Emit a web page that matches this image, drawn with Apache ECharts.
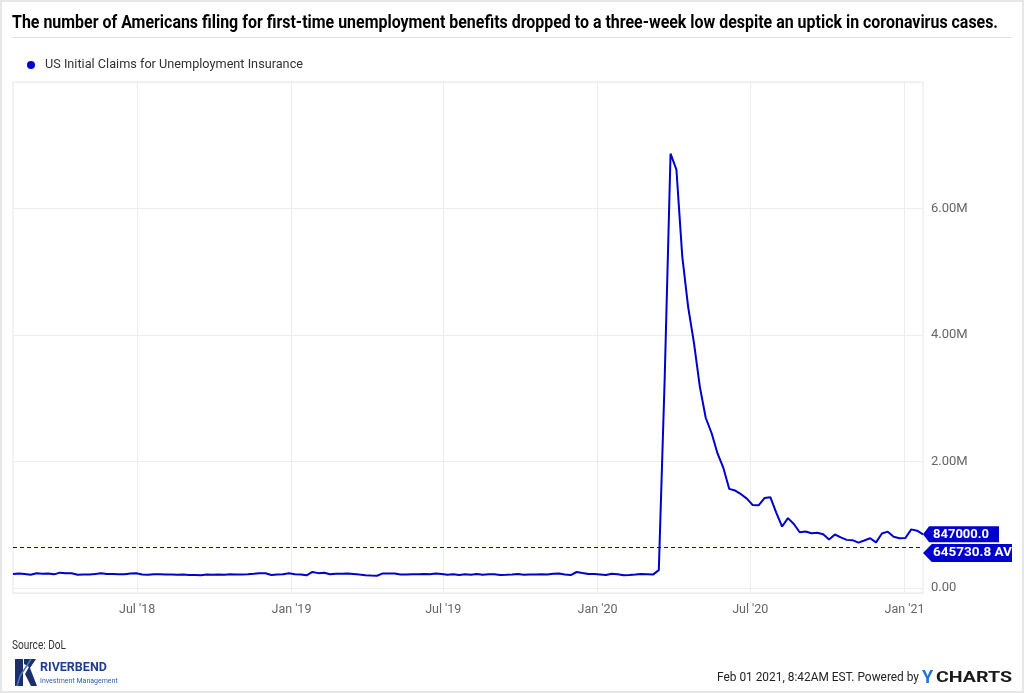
<!DOCTYPE html>
<html><head><meta charset="utf-8">
<script src="https://cdn.jsdelivr.net/npm/echarts@6/dist/echarts.min.js"></script>
<style>html,body{margin:0;padding:0;background:#fff}#c{width:1024px;height:693px}</style>
</head><body><div id="c"></div>
<script>
const TITLE = "The number of Americans filing for first-time unemployment benefits dropped to a three-week low despite an uptick in coronavirus cases.";
const SERIES_NAME = "US Initial Claims for Unemployment Insurance";
const SOURCE_TEXT = "Source: DoL";
const STAMP_TEXT = "Feb 01 2021, 8:42AM EST. Powered by";
const FIRST_WEEK = "2018-02-03"; // weekly, week-ending dates

// weekly initial claims, thousands
const claims2018 = [221,229,222,210,231,226,229,215,242,233,232,209,211,211,222,234,221,222,218,218,227,231,214,207,217,218,213,212,210,213,203,204,201,214,207,214,210,215,214,214,216,224,234,231,206,214,216,231];
const claims2019 = [216,213,199,253,234,239,216,225,223,229,221,211,202,196,192,230,230,228,212,211,215,218,222,216,227,221,209,216,206,215,209,220,209,215,217,204,208,213,219,210,214,213,218,211,225,227,213,203,252,235,222,220];
const claims2020 = [214,204,223,216,202,205,211,219,216,211,282,3307,6867,6615,5237,4442,3867,3176,2687,2446,2126,1897,1566,1540,1482,1413,1310,1307,1422,1435,1191,971,1104,1011,881,893,866,873,849,765,845,800,760,755,716,750,785,720,862,890,810,785];
const claims2021 = [790,926,905,847];

const X_TICK_DATES = ["2018-07-01","2019-01-01","2019-07-01","2020-01-01","2020-07-01","2021-01-01"];
const X_TICK_LABELS = ["Jul '18","Jan '19","Jul '19","Jan '20","Jul '20","Jan '21"];
const Y_TICK_LABELS = {0:"0.00", 2000000:"2.00M", 4000000:"4.00M", 6000000:"6.00M"};
const AVG_VALUE = 645730.8;
const LAST_LABEL = "847000.0";
const AVG_LABEL = "645730.8 AVG";

const BLUE = "#0000cc";
const DAY = 86400000;
const t0 = Date.parse(FIRST_WEEK + "T00:00:00Z");
const allClaims = [].concat(claims2018, claims2019, claims2020, claims2021);
const seriesData = allClaims.map((v, i) => [t0 + i * 7 * DAY, v * 1000]);
const lastPt = seriesData[seriesData.length - 1];
const tickTimes = X_TICK_DATES.map(d => Date.parse(d + "T00:00:00Z"));

const mctx = document.createElement("canvas").getContext("2d");
function fit(text, font, target) { mctx.font = font; return target / mctx.measureText(text).width; }

const FONT = "Roboto";
const titleScale = fit(TITLE, "bold 18px " + FONT, 986);
const legendScale = fit(SERIES_NAME, "13px " + FONT, 258);
const sourceScale = fit(SOURCE_TEXT, "13px " + FONT, 54);
const stampScale = fit(STAMP_TEXT, "13px " + FONT, 202);
const chartsScale = fit("CHARTS", "bold 15px " + FONT, 76);

const dashStyle = {color: BLUE, type: [4, 3], width: 1, opacity: 1};

const chart = echarts.init(document.getElementById("c"), null, {renderer: "canvas"});
chart.setOption({
  animation: false,
  backgroundColor: "#fff",
  grid: {left: 13, right: 101, top: 82, bottom: 100, show: true, borderColor: "#e6e6e6", borderWidth: 1},
  xAxis: {
    type: "value", min: seriesData[0][0], max: lastPt[0],
    axisLine: {show: false},
    axisTick: {show: false, customValues: tickTimes},
    axisLabel: {customValues: tickTimes, color: "#666", fontSize: 12.5, fontFamily: FONT, margin: 10,
      formatter: v => { const i = tickTimes.indexOf(v); return i >= 0 ? X_TICK_LABELS[i] : ""; }},
    splitLine: {show: true, lineStyle: {color: "#ededed", width: 1}}
  },
  yAxis: {
    type: "value", position: "right", min: -80000, max: 8000000,
    axisLine: {show: false}, axisTick: {show: false},
    axisLabel: {color: "#666", fontSize: 13, fontFamily: FONT, margin: 8,
      formatter: v => (Y_TICK_LABELS[v] !== undefined ? Y_TICK_LABELS[v] : "")},
    splitLine: {show: true, lineStyle: {color: "#ededed", width: 1}}
  },
  series: [{
    name: SERIES_NAME, type: "line", data: seriesData, showSymbol: false, symbol: "none",
    color: BLUE,
    lineStyle: {color: BLUE, width: 2}, itemStyle: {color: BLUE}, z: 3,
    markLine: {
      silent: true, symbol: "none", label: {show: false},
      lineStyle: dashStyle, itemStyle: {color: BLUE},
      emphasis: {disabled: true},
      data: [{yAxis: AVG_VALUE, lineStyle: dashStyle, itemStyle: {color: BLUE}}]
    },
    markPoint: {
      silent: true,
      data: [
        {coord: [lastPt[0], lastPt[1]], symbol: "path://M0,8 L8,0 L100,0 L100,16 L8,16 Z",
         symbolSize: [76, 16], symbolOffset: ["50%", 0], itemStyle: {color: BLUE},
         label: {show: true, formatter: LAST_LABEL, position: "insideLeft", distance: 10,
                 color: "#fff", fontWeight: "bold", fontSize: 13, fontFamily: FONT}},
        {coord: [lastPt[0], AVG_VALUE], symbol: "path://M0,9 L8,0 L100,0 L100,18 L8,18 Z",
         symbolSize: [110, 18], symbolOffset: ["50%", 6], itemStyle: {color: BLUE},
         label: {show: true, formatter: AVG_LABEL, position: "insideLeft", distance: 10,
                 color: "#fff", fontWeight: "bold", fontSize: 13.5, fontFamily: FONT}}
      ]
    }
  }],
  graphic: [
    {type: "rect", shape: {x: 1012, y: 538, width: 10, height: 30}, style: {fill: "#fff"}, z: 100, silent: true},
    {type: "rect", shape: {x: 0, y: 0, width: 1024, height: 693}, style: {fill: "none", stroke: "#e6e6e6", lineWidth: 4}, silent: true, z: 101},
    {type: "text", x: 12, y: 23, scaleX: titleScale, style: {text: TITLE, fontFamily: FONT, fontWeight: "bold", fontSize: 18, fill: "#000", verticalAlign: "middle"}},
    {type: "line", shape: {x1: 12, y1: 37.5, x2: 1012, y2: 37.5}, style: {stroke: "#e2e2e2", lineWidth: 1}},
    {type: "circle", shape: {cx: 31, cy: 65, r: 4}, style: {fill: BLUE}},
    {type: "text", x: 45, y: 65, scaleX: legendScale, style: {text: SERIES_NAME, fontFamily: FONT, fontSize: 13, fill: "#333", verticalAlign: "middle"}},
    {type: "text", x: 12, y: 646, scaleX: sourceScale, style: {text: SOURCE_TEXT, fontFamily: FONT, fontSize: 13, fill: "#333", verticalAlign: "middle"}},
    // Riverbend logo
    {type: "polygon", shape: {points: [[15,659],[23,659],[23,686],[15,686]]}, style: {fill: "#1c2f6b"}},
    {type: "polygon", shape: {points: [[24,659],[36,659],[30,668],[37,686],[31,686],[25,674],[29,667],[24,664]]}, style: {fill: "#1c2f6b"}},
    {type: "polyline", shape: {points: [[17,686],[20,676],[24,670],[28,664],[31,659]]}, style: {stroke: "#4a78c2", lineWidth: 1.5, fill: "none"}},
    {type: "text", x: 40, y: 668, style: {text: "RIVERBEND", fontFamily: FONT, fontWeight: "bold", fontSize: 12.5, fill: "#1f3e8f", verticalAlign: "middle"}},
    {type: "text", x: 40, y: 681, style: {text: "Investment Management", fontFamily: FONT, fontSize: 7, fill: "#2f62b5", verticalAlign: "middle"}},
    // footer stamp
    {type: "text", x: 919, y: 678, scaleX: stampScale, style: {text: STAMP_TEXT, fontFamily: FONT, fontSize: 13, fill: "#222", align: "right", verticalAlign: "middle"}},
    {type: "text", x: 922, y: 678, style: {text: "Y", fontFamily: FONT, fontWeight: "bold", fontSize: 18, fill: "#1d74e0", verticalAlign: "middle"}},
    {type: "text", x: 936, y: 678, scaleX: chartsScale, style: {text: "CHARTS", fontFamily: FONT, fontWeight: "bold", fontSize: 15, fill: "#1a1a1a", verticalAlign: "middle"}}
  ]
});
</script>
</body></html>
